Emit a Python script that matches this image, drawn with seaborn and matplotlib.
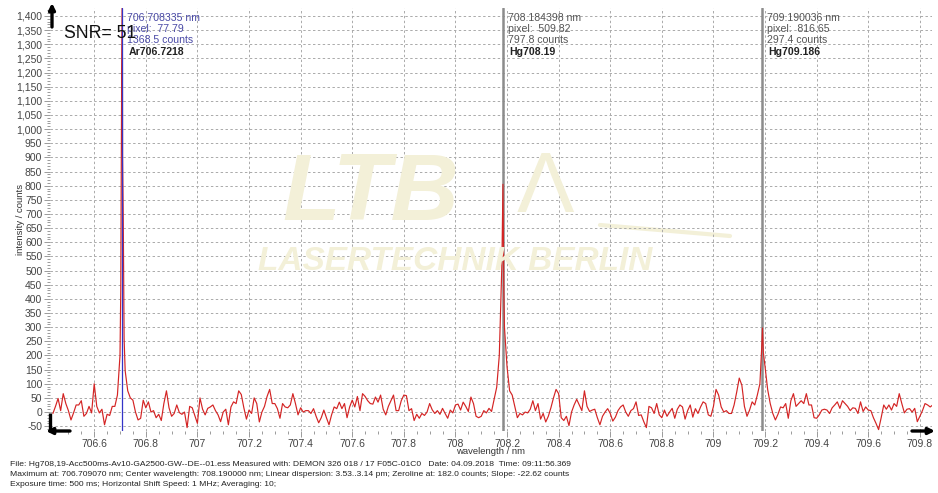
import numpy as np
import pandas as pd
import matplotlib
matplotlib.use("Agg")
import matplotlib.pyplot as plt
from matplotlib.ticker import MultipleLocator, FuncFormatter
import seaborn as sns

wl_start = 706.44
wl_step = 0.01
counts = [
    -5, 20, 48, 5, 65, 30, 5, -28, -3, 25,
    25, 40, -15, -5, 20, -3, 100, 20, -3, 10,
    -45, -8, -12, 20, 20, 60, 200, 900, 146, 75,
    50, 42, 0, -28, -22, 42, 15, 36, 0, 5,
    -20, -8, -30, 30, 75, 15, -15, -5, 25, -2,
    -8, 0, -55, 20, 15, -12, -40, 50, 10, -10,
    13, 18, 25, 5, -10, -34, 0, 10, -45, 18,
    36, 30, 75, 62, 15, -25, 7, -5, 50, 30,
    -35, 0, 20, 55, 80, 30, 30, 12, -22, 30,
    18, 15, 25, 65, 30, -10, 15, 0, 5, 5,
    -5, 12, -15, -38, -20, 7, -20, -45, -10, 18,
    12, 35, 12, 30, -20, 18, 42, 18, 55, 5,
    65, 55, 40, 30, 28, 53, 35, 60, 10, -10,
    20, 40, 60, 5, 5, 40, 60, 58, 5, 12,
    -30, -8, -22, -5, -12, 0, 30, 8, -5, 5,
    -8, 13, -5, -22, 7, -3, 25, 28, 7, 35,
    20, 2, 53, 30, -15, -20, -15, 5, -3, 13,
    2, 45, 88, 200, 520, 300, 160, 75, 60, 20,
    -20, -5, -10, 0, -3, 10, 40, 5, 30, -25,
    -5, -35, -15, 15, 50, 80, 65, -20, -30, -15,
    -48, 0, 25, 45, 25, 5, 75, 20, 2, 7,
    10, -20, -45, -15, 0, 12, -5, -32, -18, 5,
    18, 25, 0, -15, 5, 12, 36, -12, -10, -34,
    -55, 20, 15, -5, 30, -10, -20, 7, -15, 0,
    13, -22, 10, 25, 18, -25, 5, 25, -18, 12,
    -5, 18, 36, 30, -10, -15, 20, 80, 60, 18,
    0, 5, -5, -5, 25, 70, 120, 95, 20, -15,
    7, 36, 25, 60, 100, 297, 160, 80, 30, -5,
    -28, -8, 18, 15, 30, -22, 40, 65, 20, 30,
    40, 30, 65, 25, 25, -20, -22, -10, 7, 10,
    7, -5, 15, 25, 36, 13, 40, 30, 20, 5,
    15, 13, -5, 36, 2, 18, 7, 5, -20, -40,
    -62, -20, 25, 10, 25, 7, 30, 20, 65, 30,
    -3, 10, 12, 0, 13, -34, -15, 5, 30, 25,
    18, 25,
]
# extra detector pixels inside the three lines
peak_wl = [706.7030, 706.7064, 706.7091, 706.7125, 706.7159,
           708.1842, 708.1876, 709.1866, 709.1934]
peak_counts = [430, 1170, 1440, 700, 260,
               805, 430, 220, 210]

cursor_wl = [706.708335, 708.184398, 709.190036]
cursor_pixel = ["77.79", "509.82", "816.65"]
cursor_counts = [1368.5, 797.8, 297.4]
line_names = ["Ar706.7218", "Hg708.19", "Hg709.186"]

footer = [
    "File: Hg708,19-Acc500ms-Av10-GA2500-GW--DE--01.ess Measured with: DEMON 326 018 / 17 F05C-01C0   Date: 04.09.2018  Time: 09:11:56.369",
    "Maximum at: 706.709070 nm; Center wavelength: 708.190000 nm; Linear dispersion: 3.53..3.14 pm; Zeroline at: 182.0 counts; Slope: -22.62 counts",
    "Exposure time: 500 ms; Horizontal Shift Speed: 1 MHz; Averaging: 10;",
]

wl = np.round(wl_start + wl_step * np.arange(len(counts)), 4)
df = pd.concat([pd.DataFrame({"wavelength": wl, "counts": counts}),
                pd.DataFrame({"wavelength": peak_wl, "counts": peak_counts})])
df = df.sort_values("wavelength")

sns.set_theme(style="white")
plt.rcParams['font.family'] = ['Liberation Sans', 'DejaVu Sans']

W, H = 938, 493
fig = plt.figure(figsize=(W / 100, H / 100), dpi=100)
ax_l, ax_r, ax_t, ax_b = 50, 932, 8, 431
ax = fig.add_axes([ax_l / W, 1 - ax_b / H, (ax_r - ax_l) / W, (ax_b - ax_t) / H])
ax.patch.set_alpha(0)

# faint watermark
wm = '#f3f0d8'
fig.text(371 / W, 1 - 195 / H, "LTB", fontsize=68, fontweight='bold', fontstyle='italic',
         color=wm, ha='center', va='center', zorder=0)
fig.text(545 / W, 1 - 190 / H, "\u039b", fontsize=62, color=wm, ha='center', va='center', zorder=0)
fig.text(455 / W, 1 - 262 / H, "LASERTECHNIK BERLIN", fontsize=24, fontweight='bold',
         fontstyle='italic', color=wm, ha='center', va='center', zorder=0)
fig.add_artist(plt.Line2D([600 / W, 730 / W], [1 - 225 / H, 1 - 236 / H], color=wm, lw=3, zorder=0))

sns.lineplot(data=df, x="wavelength", y="counts", ax=ax, color='#d42424',
             linewidth=0.85, sort=True, estimator=None, zorder=3)

ax.set_xlim(706.4287, 709.847)
ax.set_ylim(-67, 1428)

ax.xaxis.set_major_locator(MultipleLocator(0.2))
ax.xaxis.set_minor_locator(MultipleLocator(0.05))
ax.yaxis.set_major_locator(MultipleLocator(50))
ax.yaxis.set_minor_locator(MultipleLocator(10))
ax.xaxis.set_major_formatter(FuncFormatter(lambda v, p: f"{round(v, 1):g}"))
ax.yaxis.set_major_formatter(FuncFormatter(lambda v, p: f"{int(round(v)):,}"))
ax.tick_params(axis='both', which='both', bottom=True, left=True, direction='out',
               color='#8a8a8a', width=0.6)
ax.tick_params(axis='both', which='major', length=4, labelsize=7.5, labelcolor='#444444', pad=1.5)
ax.tick_params(axis='both', which='minor', length=2.5)
ax.grid(True, which='major', color='#aaaaaa', linestyle=(0, (2.5, 2.5)), linewidth=0.7)
for s in ax.spines.values():
    s.set_visible(False)

ax.set_xlabel("wavelength / nm", fontsize=6.8, color='#333333')
ax.set_ylabel("intensity / counts", fontsize=6.8, color='#333333')
ax.xaxis.set_label_coords(0.5, (ax_b - 447) / (ax_b - ax_t))
ax.yaxis.set_label_coords((25 - ax_l) / (ax_r - ax_l), 0.5)

# cursor lines and their readouts
ax.axvline(cursor_wl[0], color='#3434c8', lw=0.9, zorder=4)
ax.axvline(cursor_wl[1], color='#8c8c8c', lw=1.8, zorder=2)
ax.axvline(cursor_wl[2], color='#8c8c8c', lw=1.8, zorder=2)
txt_colors = ['#4a4aa6', '#555555', '#555555']
for k in range(3):
    lines = [f"{cursor_wl[k]:.6f} nm", f"pixel:  {cursor_pixel[k]}", f"{cursor_counts[k]:.1f} counts"]
    for j, s in enumerate(lines):
        ax.annotate(s, xy=(cursor_wl[k], 1), xycoords=('data', 'axes fraction'),
                    xytext=(3.6, -7.3 - 7.9 * j), textcoords='offset points',
                    fontsize=7.6, color=txt_colors[k], va='center', ha='left', zorder=5)
    ax.annotate(line_names[k], xy=(cursor_wl[k], 1), xycoords=('data', 'axes fraction'),
                xytext=(4.5, -31.5), textcoords='offset points',
                fontsize=7.6, fontweight='bold', color='#222222', va='center', ha='left', zorder=5)

fig.text(64 / W, 1 - 33 / H, "SNR= 51", fontsize=12.7, color='#111111', ha='left', va='center', zorder=6)

# cursor arrows of the acquisition software
def fx(x):
    return (x - ax_l) / (ax_r - ax_l)

def fy(y):
    return (ax_b - y) / (ax_b - ax_t)

arrow = dict(arrowstyle='-|>', color='black', lw=2.4, mutation_scale=9, shrinkA=0, shrinkB=0)
ax.annotate('', xy=(fx(52), fy(3)), xytext=(fx(52), fy(27)), xycoords='axes fraction',
            arrowprops=arrow, annotation_clip=False)
ax.annotate('', xy=(fx(46), fy(431)), xytext=(fx(70), fy(431)), xycoords='axes fraction',
            arrowprops=arrow, annotation_clip=False)
ax.plot([fx(50), fx(50)], [fy(413), fy(431)], transform=ax.transAxes, color='black',
        lw=2.4, clip_on=False, solid_capstyle='butt')
ax.annotate('', xy=(fx(935), fy(431)), xytext=(fx(912), fy(431)), xycoords='axes fraction',
            arrowprops=arrow, annotation_clip=False)

for j, s in enumerate(footer):
    fig.text(10 / W, 1 - (464 + 10.3 * j) / H, s, fontsize=6.1, color='#222222',
             ha='left', va='center')

fig.savefig("out.png", dpi=100)
